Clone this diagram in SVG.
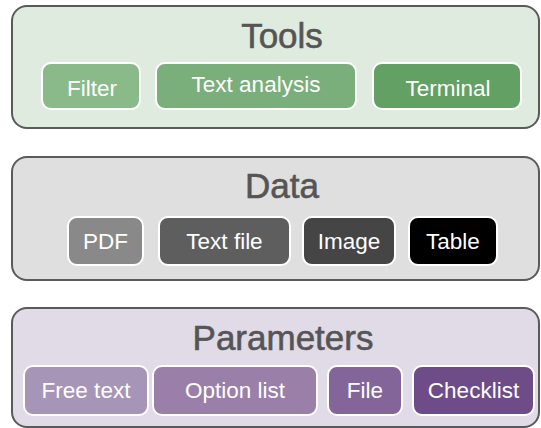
<svg xmlns="http://www.w3.org/2000/svg" width="541" height="428" viewBox="0 0 541 428">
<style>
.box{stroke:#5a5a5a;stroke-width:2}
.title{font-family:"Liberation Sans",Arial,sans-serif;font-size:35px;fill:#555;stroke:#555;stroke-width:0.6;text-anchor:middle}
.pill{stroke:#fff;stroke-width:2}
.lbl{font-family:"Liberation Sans",Arial,sans-serif;font-size:22.5px;fill:#fff;text-anchor:middle}
</style>
<rect width="541" height="428" fill="#fff"/>
<g id="tools">
<rect class="box" x="12" y="6" width="527" height="122" rx="15" fill="#e0ebe0"/>
<text class="title" x="282" y="48">Tools</text>
<g id="filter"><rect class="pill" x="42" y="63" width="98" height="46" rx="9" fill="#8aba8a"/><text class="lbl" x="92" y="96">Filter</text></g>
<g id="text-analysis"><rect class="pill" x="156" y="63" width="200" height="46" rx="9" fill="#7aae7a"/><text class="lbl" x="256" y="92">Text analysis</text></g>
<g id="terminal"><rect class="pill" x="373" y="63" width="148" height="46" rx="9" fill="#63a063"/><text class="lbl" x="448" y="96">Terminal</text></g>
</g>
<g id="data">
<rect class="box" x="12" y="157" width="527" height="123" rx="15" fill="#dfdfdf"/>
<text class="title" x="282" y="198">Data</text>
<g id="pdf"><rect class="pill" x="68" y="217" width="75" height="48" rx="9" fill="#898989"/><text class="lbl" x="105.5" y="249">PDF</text></g>
<g id="text-file"><rect class="pill" x="159" y="217" width="131" height="48" rx="9" fill="#5e5e5e"/><text class="lbl" x="224.5" y="249">Text file</text></g>
<g id="image"><rect class="pill" x="303" y="217" width="92" height="48" rx="9" fill="#454545"/><text class="lbl" x="349" y="249">Image</text></g>
<g id="table"><rect class="pill" x="409" y="217" width="88" height="48" rx="9" fill="#000"/><text class="lbl" x="453" y="249">Table</text></g>
</g>
<g id="parameters">
<rect class="box" x="12" y="308" width="527" height="119" rx="15" fill="#e0dbe7"/>
<text class="title" x="283" y="350">Parameters</text>
<g id="free-text"><rect class="pill" x="24" y="366" width="124" height="49" rx="9" fill="#a795b8"/><text class="lbl" x="86" y="398">Free text</text></g>
<g id="option-list"><rect class="pill" x="153" y="366" width="164" height="49" rx="9" fill="#9a80a8"/><text class="lbl" x="235" y="398">Option list</text></g>
<g id="file"><rect class="pill" x="328" y="366" width="74" height="49" rx="9" fill="#84659a"/><text class="lbl" x="365" y="398">File</text></g>
<g id="checklist"><rect class="pill" x="413" y="366" width="121" height="49" rx="9" fill="#6e4c88"/><text class="lbl" x="473.5" y="398">Checklist</text></g>
</g>
<g id="connectors"></g>
</svg>
